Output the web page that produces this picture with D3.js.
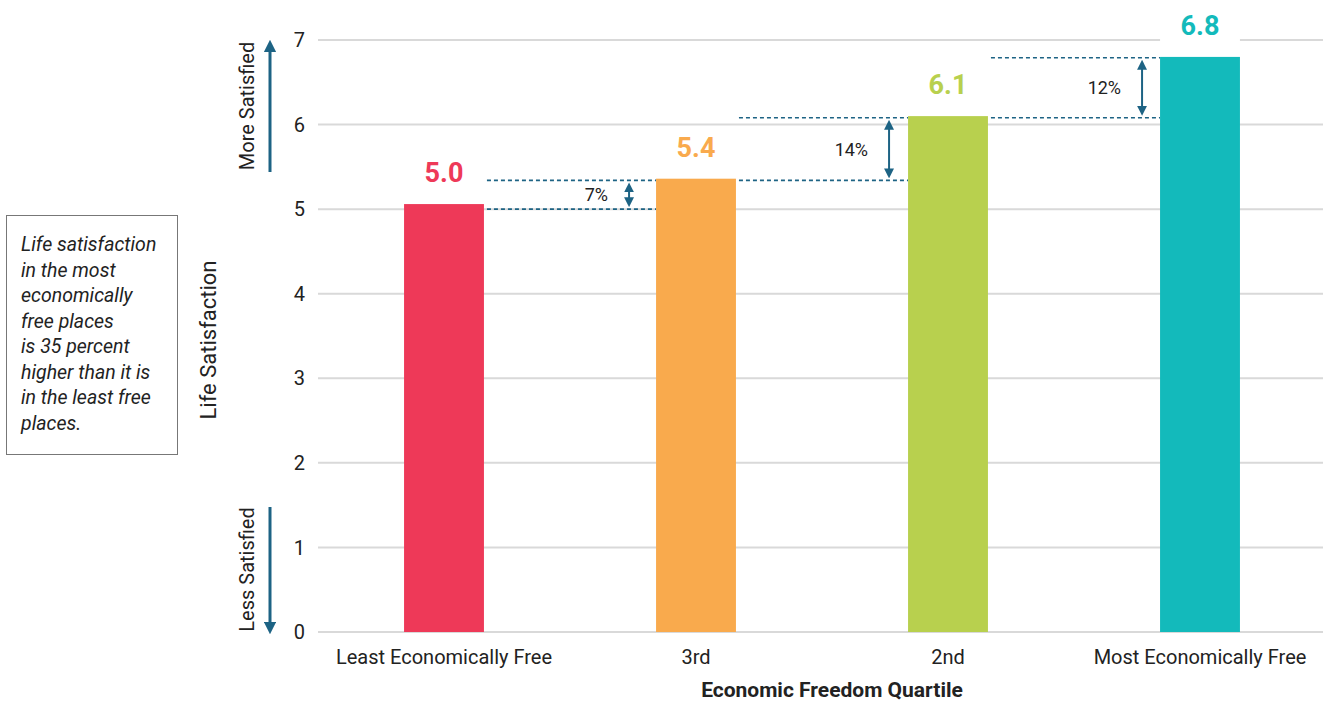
<!DOCTYPE html>
<html><head><meta charset="utf-8">
<script src="https://cdn.jsdelivr.net/npm/d3@7"></script>
<style>
body{margin:0;background:#fff;}
svg{display:block;font-family:Roboto,"Liberation Sans",sans-serif;}
</style></head>
<body><svg id="c" width="1323" height="704"></svg>
<script>
const categories = ["Least Economically Free","3rd","2nd","Most Economically Free"];
const values = [5.06, 5.36, 6.10, 6.80];
const valueLabels = ["5.0","5.4","6.1","6.8"];
const colors = ["#EE3958","#F9AA4D","#B8D04E","#13BABB"];
const yTicks = [0,1,2,3,4,5,6,7];
const compareLow = [5.0, 5.34, 6.08];
const compareHigh = [5.34, 6.08, 6.79];
const compareLabels = ["7%","14%","12%"];
const noteLines = ["Life satisfaction","in the most","economically","free places","is 35 percent","higher than it is","in the least free","places."];

const svg = d3.select("#c");
const accent = "#1D6384";
const y = d3.scaleLinear().domain([0,7]).range([632,40]);
const x = d3.scaleBand().domain(categories).range([318,1326]).paddingInner(0.683).paddingOuter(0.3415);

// gridlines
svg.append("g").selectAll("line").data(yTicks).join("line")
  .attr("x1",318).attr("x2",1323).attr("y1",d=>y(d)).attr("y2",d=>y(d))
  .attr("stroke","#d9d9d9").attr("stroke-width",2);
// y tick labels
svg.append("g").selectAll("text").data(yTicks).join("text")
  .attr("x",305).attr("y",d=>y(d)).attr("dy","0.36em").attr("text-anchor","end")
  .attr("font-size",20).attr("fill","#222").text(d=>d);

// defs arrowheads
const defs = svg.append("defs");
defs.append("marker").attr("id","ah").attr("viewBox","0 0 10 10").attr("refX",5).attr("refY",5)
  .attr("markerWidth",4.2).attr("markerHeight",4.2).attr("orient","auto-start-reverse")
  .append("path").attr("d","M0,0L10,5L0,10z").attr("fill",accent);
defs.append("marker").attr("id","bh").attr("viewBox","0 0 10 10").attr("refX",6).attr("refY",5)
  .attr("markerWidth",5).attr("markerHeight",5).attr("orient","auto-start-reverse")
  .append("path").attr("d","M0,0L10,5L0,10z").attr("fill",accent);

// dashed comparison lines
const arrowGap = [27, 19, 18];
const cg = svg.append("g");
compareLow.forEach((lo,i)=>{
  const hi = compareHigh[i];
  const x0 = x(categories[i]) + x.bandwidth() + 3;
  const x1 = x(categories[i+1]);
  [lo,hi].forEach(v=>{
    cg.append("line").attr("x1",x0).attr("x2",x1).attr("y1",y(v)).attr("y2",y(v))
      .attr("stroke",accent).attr("stroke-width",1.6).attr("stroke-dasharray","4,3");
  });
  const ax = x1 - arrowGap[i];
  cg.append("line").attr("x1",ax).attr("x2",ax).attr("y1",y(hi)+6).attr("y2",y(lo)-6)
    .attr("stroke",accent).attr("stroke-width",2)
    .attr("marker-start","url(#bh)").attr("marker-end","url(#bh)");
  cg.append("text").attr("x",ax-21).attr("y",(y(hi)+y(lo))/2).attr("dy","0.36em")
    .attr("text-anchor","end").attr("font-size",18).attr("fill","#222").text(compareLabels[i]);
});

// bars
svg.append("g").selectAll("rect").data(values).join("rect")
  .attr("x",(d,i)=>x(categories[i])).attr("width",x.bandwidth())
  .attr("y",d=>y(d)).attr("height",d=>y(0)-y(d)).attr("fill",(d,i)=>colors[i]);

// value labels with white bg
const vl = svg.append("g");
values.forEach((v,i)=>{
  const cx = x(categories[i]) + x.bandwidth()/2;
  vl.append("rect").attr("x",x(categories[i])).attr("width",x.bandwidth())
    .attr("y",y(v)-48).attr("height",38).attr("fill","#fff");
  vl.append("text").attr("x",cx).attr("y",y(v)-22).attr("text-anchor","middle")
    .attr("font-size",27).attr("font-weight","bold").attr("fill",colors[i]).text(valueLabels[i]);
});

// x labels
svg.append("g").selectAll("text").data(categories).join("text")
  .attr("x",d=>x(d)+x.bandwidth()/2).attr("y",664).attr("text-anchor","middle")
  .attr("font-size",20).attr("fill","#222").text(d=>d);
svg.append("text").attr("x",832).attr("y",697).attr("text-anchor","middle")
  .attr("font-size",21).attr("font-weight","bold").attr("fill","#222").text("Economic Freedom Quartile");

// y title
svg.append("text").attr("transform","translate(216,340) rotate(-90)").attr("text-anchor","middle")
  .attr("font-size",22).attr("fill","#222").text("Life Satisfaction");
svg.append("text").attr("transform",`translate(254,${(y(7)+172)/2}) rotate(-90)`).attr("text-anchor","middle")
  .attr("font-size",20).attr("fill","#222").text("More Satisfied");
svg.append("text").attr("transform",`translate(254,${(507+y(0))/2}) rotate(-90)`).attr("text-anchor","middle")
  .attr("font-size",20).attr("fill","#222").text("Less Satisfied");
svg.append("line").attr("x1",270).attr("x2",270).attr("y1",172).attr("y2",y(7)+6)
  .attr("stroke",accent).attr("stroke-width",3).attr("marker-end","url(#ah)");
svg.append("line").attr("x1",270).attr("x2",270).attr("y1",507).attr("y2",y(0)-4)
  .attr("stroke",accent).attr("stroke-width",3).attr("marker-end","url(#ah)");

// note box
svg.append("rect").attr("x",6.5).attr("y",215.5).attr("width",171).attr("height",239)
  .attr("fill","#fff").attr("stroke","#777").attr("stroke-width",1);
svg.append("g").selectAll("text").data(noteLines).join("text")
  .attr("x",21).attr("y",(d,i)=>251+i*25.5).attr("font-size",19.5).attr("font-style","italic")
  .attr("fill","#222").text(d=>d);
</script></body></html>
